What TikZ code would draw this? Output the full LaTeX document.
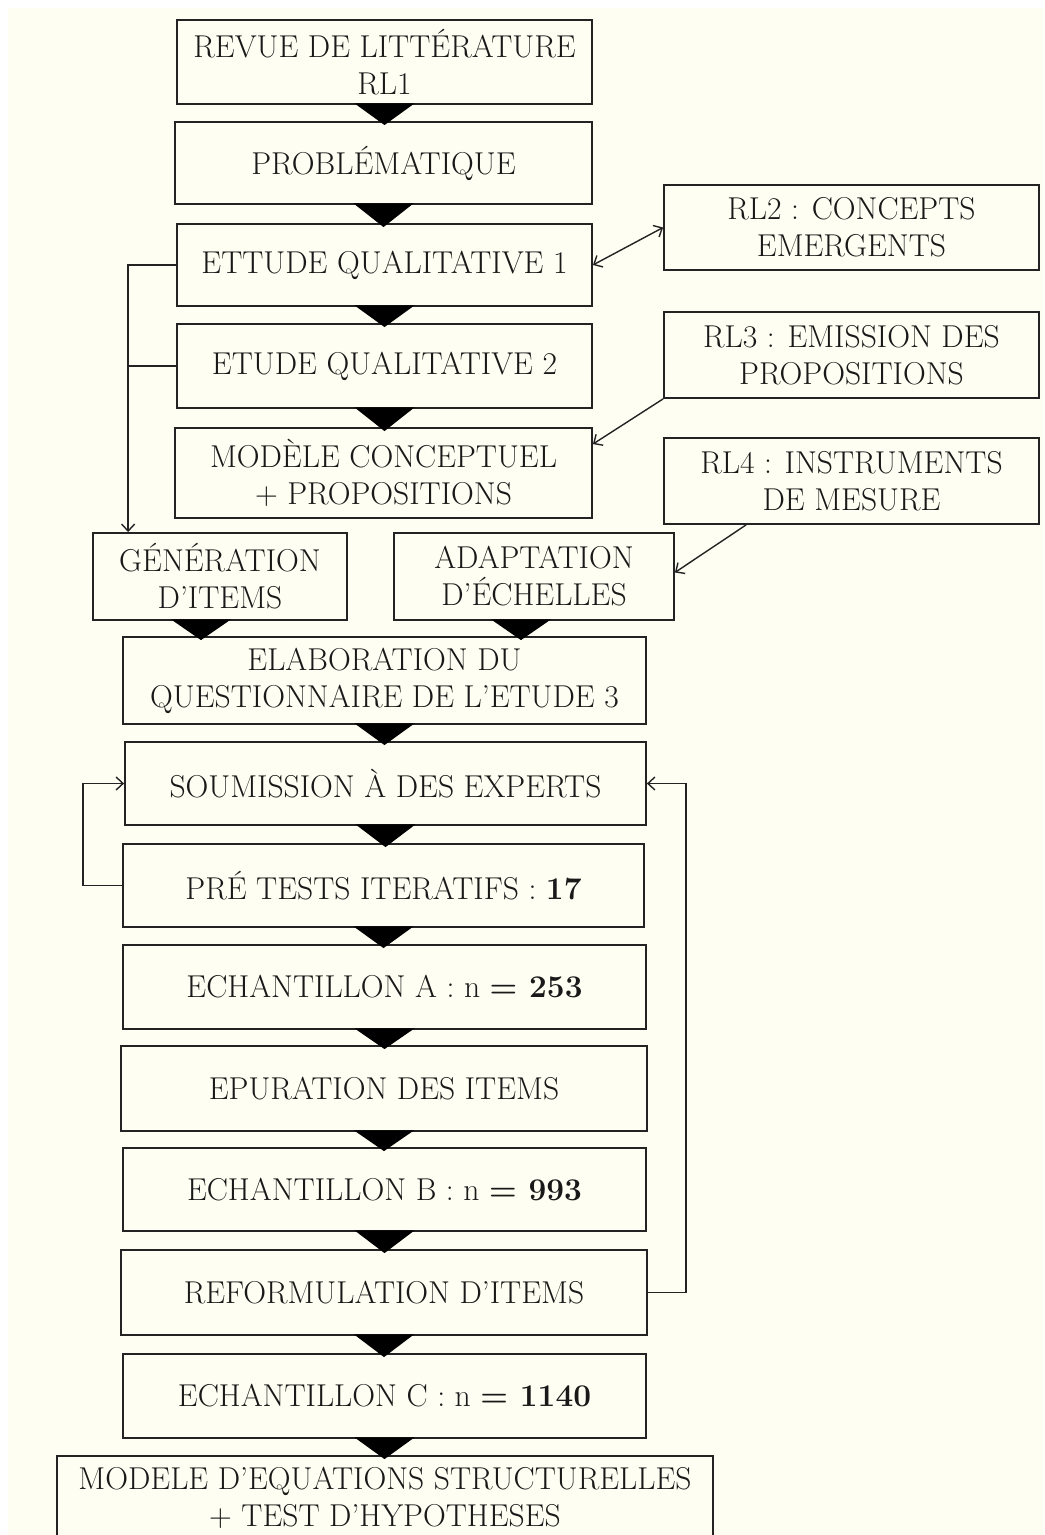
\documentclass[tikz,border=0pt]{standalone}
\usepackage{tikz}
\usetikzlibrary{calc, arrows.meta}

\definecolor{creme}{RGB}{255,254,242}
\definecolor{trait}{RGB}{35,35,35}

\tikzset{
	etape/.style={draw=trait, line width=0.9pt, inner sep=1pt, align=center,
		text=black!90, font=\fontsize{15.8}{18.5}\selectfont},
	lien/.style={draw=trait, line width=0.7pt},
	fleche/.style={lien, -{Straight Barb[length=3.5pt,width=6.5pt]}},
	doublefleche/.style={lien, {Straight Barb[length=3.5pt,width=6.5pt]}-{Straight Barb[length=3.5pt,width=6.5pt]}}
}

% Triangle noir entre deux étapes : #1 décalage horizontal, #2 de, #3 vers
\newcommand{\flechebas}[3][0]{%
	\path (#2.south |- #3.north) coordinate (pointe);
	\fill[black] ($(#2.south)+(#1-30,1.5)$) -- ($(#2.south)+(#1+30,1.5)$)
		-- ($(pointe)+(#1,-4)$) -- cycle;
}

\begin{document}
\begin{tikzpicture}[x=0.5pt, y=0.5pt]
				% Cadre et fond
				\clip (0,0) rectangle (1044,-1535);
				\fill[creme] (8,-8) rectangle (1044,-1535);
				
				% Colonne principale
				\node[etape, minimum width=207.5pt, minimum height=42pt] (rl1) at (384.5,-62) {REVUE DE LITTÉRATURE\\RL1};
				\node[etape, minimum width=208.5pt, minimum height=41pt] (pb) at (383.5,-163) {PROBLÉMATIQUE};
				\node[etape, minimum width=207.5pt, minimum height=41pt] (eq1) at (384.5,-265) {ETTUDE QUALITATIVE 1};
				\node[etape, minimum width=207.5pt, minimum height=42pt] (eq2) at (384.5,-366) {ETUDE QUALITATIVE 2};
				\node[etape, minimum width=208.5pt, minimum height=45pt] (mc) at (383.5,-473) {MODÈLE CONCEPTUEL\\+ PROPOSITIONS};
				
				% Revues de littérature à droite
				\node[etape, minimum width=187.5pt, minimum height=42.5pt] (rl2) at (851.5,-227.5) {RL2 : CONCEPTS\\EMERGENTS};
				\node[etape, minimum width=187.5pt, minimum height=43pt] (rl3) at (851.5,-355) {RL3 : EMISSION DES\\PROPOSITIONS};
				\node[etape, minimum width=187.5pt, minimum height=43pt] (rl4) at (851.5,-481) {RL4 : INSTRUMENTS\\DE MESURE};
				
				% Items et échelles
				\node[etape, minimum width=127pt, minimum height=43.5pt] (gen) at (220,-576.5) {GÉNÉRATION\\D’ITEMS};
				\node[etape, minimum width=140pt, minimum height=43.5pt] (ada) at (534,-576.5) {ADAPTATION\\D’ÉCHELLES};
				
				% Étude 3
				\node[etape, minimum width=261.5pt, minimum height=43.5pt] (ela) at (384.5,-680.5) {ELABORATION DU\\QUESTIONNAIRE DE L’ETUDE 3};
				\node[etape, minimum width=260.5pt, minimum height=41.5pt] (sou) at (385.5,-783.5) {SOUMISSION À DES EXPERTS};
				\node[etape, minimum width=260.5pt, minimum height=41.5pt] (pre) at (383.5,-885.5) {PRÉ TESTS ITERATIFS : \textbf{17}};
				\node[etape, minimum width=261.5pt, minimum height=42pt] (eca) at (384.5,-987) {ECHANTILLON A : n \textbf{= 253}};
				\node[etape, minimum width=263pt, minimum height=42.5pt] (epu) at (384,-1088.5) {EPURATION DES ITEMS};
				\node[etape, minimum width=261.5pt, minimum height=41.5pt] (ecb) at (384.5,-1189.5) {ECHANTILLON B : n \textbf{= 993}};
				\node[etape, minimum width=263pt, minimum height=42.5pt] (ref) at (384,-1292.5) {REFORMULATION D’ITEMS};
				\node[etape, minimum width=261.5pt, minimum height=42pt] (ecc) at (384.5,-1396) {ECHANTILLON C : n \textbf{= 1140}};
				\node[etape, minimum width=328pt, minimum height=42pt] (mod) at (385,-1498) {MODELE D’EQUATIONS STRUCTURELLES\\+ TEST D’HYPOTHESES};
				
				% Triangles noirs
				\flechebas{rl1}{pb}
				\flechebas{pb}{eq1}
				\flechebas{eq1}{eq2}
				\flechebas{eq2}{mc}
				\flechebas[-19]{gen}{ela}
				\flechebas[-13]{ada}{ela}
				\flechebas{ela}{sou}
				\flechebas{sou}{pre}
				\flechebas{pre}{eca}
				\flechebas{eca}{epu}
				\flechebas{epu}{ecb}
				\flechebas{ecb}{ref}
				\flechebas{ref}{ecc}
				\flechebas{ecc}{mod}
				
				% Liens avec les revues de littérature
				\draw[doublefleche] (eq1.east) -- (rl2.west);
				\draw[fleche] (rl3.south west) -- ($(mc.north east)+(0,-17)$);
				\draw[fleche] ($(rl4.south west)+(83,0)$) -- ($(ada.east)+(0,4)$);
				
				% Études qualitatives vers génération d'items
				\coordinate (g1) at ($(eq1.west)+(-48,0)$);
				\draw[fleche] (eq1.west) -- (g1) -- (g1 |- gen.north);
				\draw[lien] (eq2.west) -- (eq2.west -| g1);
				
				% Boucles de retour vers les experts
				\coordinate (b1) at ($(pre.west)+(-39,0)$);
				\draw[fleche] (pre.west) -- (b1) |- (sou.west);
				\coordinate (b2) at ($(ref.east)+(38,0)$);
				\draw[fleche] (ref.east) -- (b2) |- (sou.east);
			\end{tikzpicture}
\end{document}
